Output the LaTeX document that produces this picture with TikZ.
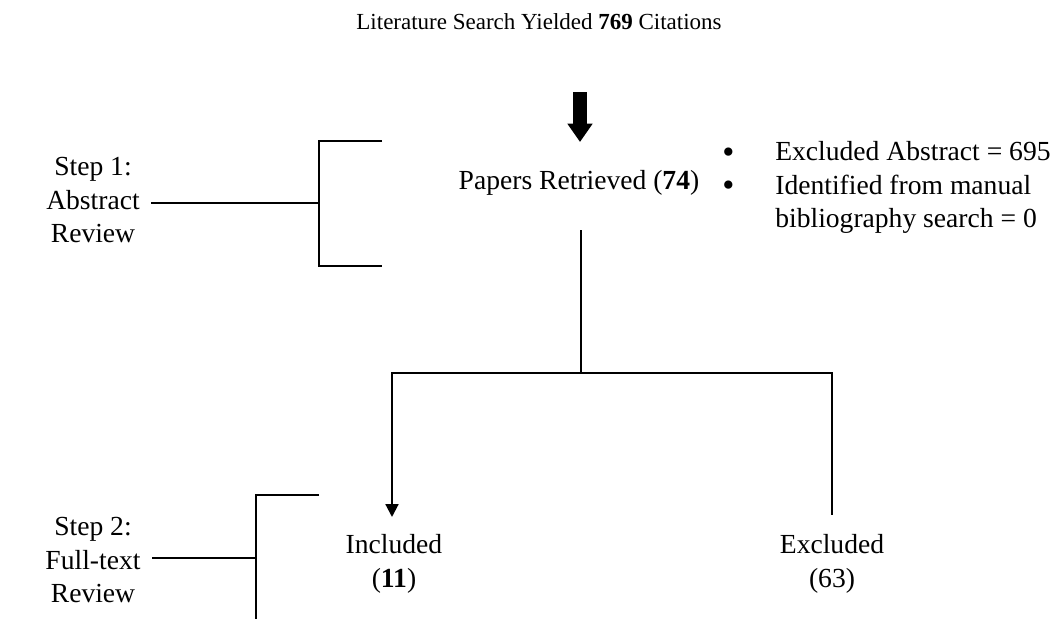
\documentclass[tikz,border=0pt]{standalone}
\usepackage{fontspec}
\setmainfont{Liberation Serif}
\usetikzlibrary{arrows.meta,positioning}

\begin{document}
\begin{tikzpicture}[
  x=0.435pt,y=-0.435pt,
  txt/.style={font=\fontsize{12}{14.5}\selectfont,inner sep=0pt,align=center},
  line/.style={draw=black,line width=0.9pt},
  bigarrow/.style={draw=black,line width=6pt,-{Triangle[width=10.5pt,length=8pt]}},
  smallarrow/.style={-{Triangle[width=5.6pt,length=5.6pt]}}]

\useasboundingbox (0,0) rectangle (1058,619);

\newcommand{\bigbullet}{\raisebox{-1.2pt}{\fontsize{15}{14.5}\selectfont\textbullet}}

\node[txt,font=\fontsize{10}{12}\selectfont] (title) at (539,22)
  {Literature Search Yielded \textbf{769} Citations};
\node[txt] (papers)   at (579,183) {Papers Retrieved (\textbf{74})};
\node[txt,anchor=north west] (excl) at (722,137)
  {\begin{tabular}{@{}p{23pt}@{}l@{}}
   \bigbullet & Excluded Abstract = 695\\
   \bigbullet & Identified from manual\\
              & bibliography search = 0
   \end{tabular}};

\node[txt] (step1)    at (93,200)  {Step 1:\\Abstract\\Review};
\node[txt] (step2)    at (93,560)  {Step 2:\\Full-text\\Review};
\node[txt] (included) at (394,564) {Included\\(\textbf{11})};
\node[txt] (excluded) at (832,564) {Excluded\\(63)};

% thick arrow under the title
\coordinate (arrtop) at (580,92);
\coordinate (arrtip) at (580,142);
\draw[bigarrow] (arrtop) -- (arrtip);

% step brackets
\coordinate (s1) at (151,203);
\coordinate (s1m) at (319,203);
\draw[line] (s1) -- (s1m);
\draw[line] (382,141) -- (319,141) -- (319,266) -- (382,266);

\coordinate (s2) at (152,558);
\coordinate (s2m) at (256,558);
\draw[line] (s2) -- (s2m);
\draw[line] (319,495) -- (256,495) -- (256,619);

% split into included / excluded
\coordinate (stem)   at (581,230);
\coordinate (split)  at (581,373);
\coordinate (inctop) at (392,517);
\coordinate (exctop) at (832,515);
\draw[line] (stem) -- (split);
\draw[line,smallarrow] (split) -| (inctop);
\draw[line] (split) -| (exctop);
\end{tikzpicture}
\end{document}
